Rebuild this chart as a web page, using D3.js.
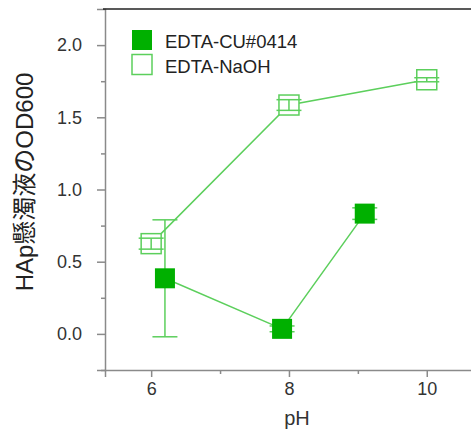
<!DOCTYPE html>
<meta charset="utf-8">
<head>
<style>
  body { margin: 0; background: #fff; }
  text { font-family: "Liberation Sans", Arial, "Noto Sans CJK JP", sans-serif; }
</style>
</head>
<body>
<script src="https://d3js.org/d3.v7.min.js"></script>
<script>
// data
var cuPH = [6.2, 7.9, 9.1];
var cuOD = [0.385, 0.035, 0.833];
var cuErr = [0.405, 0.02, 0.04];

var naPH = [6.0, 8.0, 10.0];
var naOD = [0.625, 1.585, 1.76];
var naErr = [0.038, 0.037, 0.014];

var xTicks = [6, 8, 10];
var xMinor = [7, 9];
var yTicks = [0.0, 0.5, 1.0, 1.5, 2.0];
var yMinor = [-0.25, 0.25, 0.75, 1.25, 1.75];

var seriesNames = ["EDTA-CU#0414", "EDTA-NaOH"];

var W = 471, H = 430;
var plotLeft = 105, plotTop = 9, plotBottom = 370;

var x = d3.scaleLinear().domain([5.33, 10.67]).range([plotLeft, plotLeft + 5.34 * 68.9]);
var y = d3.scaleLinear().domain([-0.25, 2.25]).range([plotBottom, plotTop]);

var lineCol = "#5ccf5c", fillCol = "#00b000", axisCol = "#8a8a8a";
var ms = 20;

var svg = d3.select("body").append("svg")
  .attr("width", W).attr("height", H);

// axes
svg.append("g")
  .attr("transform", "translate(0," + plotBottom + ")")
  .call(d3.axisBottom(x).tickValues(xTicks).tickSize(7).tickPadding(5).tickFormat(d3.format("d")));
svg.append("g")
  .attr("transform", "translate(0," + plotBottom + ")")
  .call(d3.axisBottom(x).tickValues(xMinor).tickSize(4).tickFormat(""))
  .select(".domain").remove();

svg.append("g")
  .attr("transform", "translate(" + plotLeft + ",0)")
  .call(d3.axisLeft(y).tickValues(yTicks).tickSize(8).tickPadding(15).tickFormat(d3.format(".1f")));
svg.append("g")
  .attr("transform", "translate(" + plotLeft + ",0)")
  .call(d3.axisLeft(y).tickValues(yMinor).tickSize(4).tickFormat(""))
  .select(".domain").remove();

svg.selectAll(".domain").attr("stroke", axisCol).attr("stroke-width", 1.5);
svg.selectAll(".tick line").attr("stroke", axisCol).attr("stroke-width", 1.5);
svg.selectAll(".tick text").attr("fill", "#333").style("font-size", "18px")
  .style("font-family", "'Liberation Sans', Arial, sans-serif");

// top frame
svg.append("line")
  .attr("x1", plotLeft - 2).attr("x2", W).attr("y1", plotTop).attr("y2", plotTop)
  .attr("stroke", "#222").attr("stroke-width", 1.5);

// axis titles
svg.append("text")
  .attr("x", 297).attr("y", 425)
  .attr("text-anchor", "middle")
  .attr("fill", "#333")
  .style("font-size", "20px")
  .text("pH");
svg.append("text")
  .attr("transform", "translate(33,182) rotate(-90)")
  .attr("text-anchor", "middle")
  .attr("fill", "#222")
  .style("font-size", "24px")
  .text("HAp懸濁液のOD600");

function pts(px, py, pe) {
  return px.map(function(d, i) { return { x: d, y: py[i], e: pe[i] }; });
}
var cu = pts(cuPH, cuOD, cuErr);
var na = pts(naPH, naOD, naErr);

var line = d3.line()
  .x(function(d) { return x(d.x); })
  .y(function(d) { return y(d.y); });

[cu, na].forEach(function(s) {
  svg.append("path")
    .datum(s)
    .attr("d", line)
    .attr("fill", "none")
    .attr("stroke", lineCol)
    .attr("stroke-width", 1.5);
});

// error bars
function errBars(s) {
  var g = svg.append("g").attr("stroke", lineCol).attr("stroke-width", 1.5);
  s.forEach(function(d) {
    var cx = x(d.x);
    g.append("line").attr("x1", cx).attr("x2", cx)
      .attr("y1", y(d.y - d.e)).attr("y2", y(d.y + d.e));
    [d.y - d.e, d.y + d.e].forEach(function(v) {
      g.append("line").attr("x1", cx - 12.5).attr("x2", cx + 12.5)
        .attr("y1", y(v)).attr("y2", y(v));
    });
  });
}

// filled markers go over their error bars
errBars(cu);
svg.selectAll(".cu").data(cu).enter().append("rect")
  .attr("x", function(d) { return x(d.x) - ms / 2; })
  .attr("y", function(d) { return y(d.y) - ms / 2; })
  .attr("width", ms).attr("height", ms)
  .attr("fill", fillCol);

svg.selectAll(".na").data(na).enter().append("rect")
  .attr("x", function(d) { return x(d.x) - ms / 2; })
  .attr("y", function(d) { return y(d.y) - ms / 2; })
  .attr("width", ms).attr("height", ms)
  .attr("fill", "#fff")
  .attr("stroke", lineCol)
  .attr("stroke-width", 1.5);
errBars(na);

// legend
var legend = svg.selectAll(".legend").data(seriesNames).enter().append("g")
  .attr("transform", function(d, i) { return "translate(132," + (30 + i * 24.5) + ")"; });
legend.append("rect")
  .attr("width", 20).attr("height", 20)
  .attr("fill", function(d, i) { return i === 0 ? fillCol : "#fff"; })
  .attr("stroke", function(d, i) { return i === 0 ? "none" : lineCol; })
  .attr("stroke-width", 1.5);
legend.append("text")
  .attr("x", 33).attr("y", 18)
  .attr("fill", "#222")
  .style("font-size", "18.5px")
  .text(function(d) { return d; });
</script>
</body>
